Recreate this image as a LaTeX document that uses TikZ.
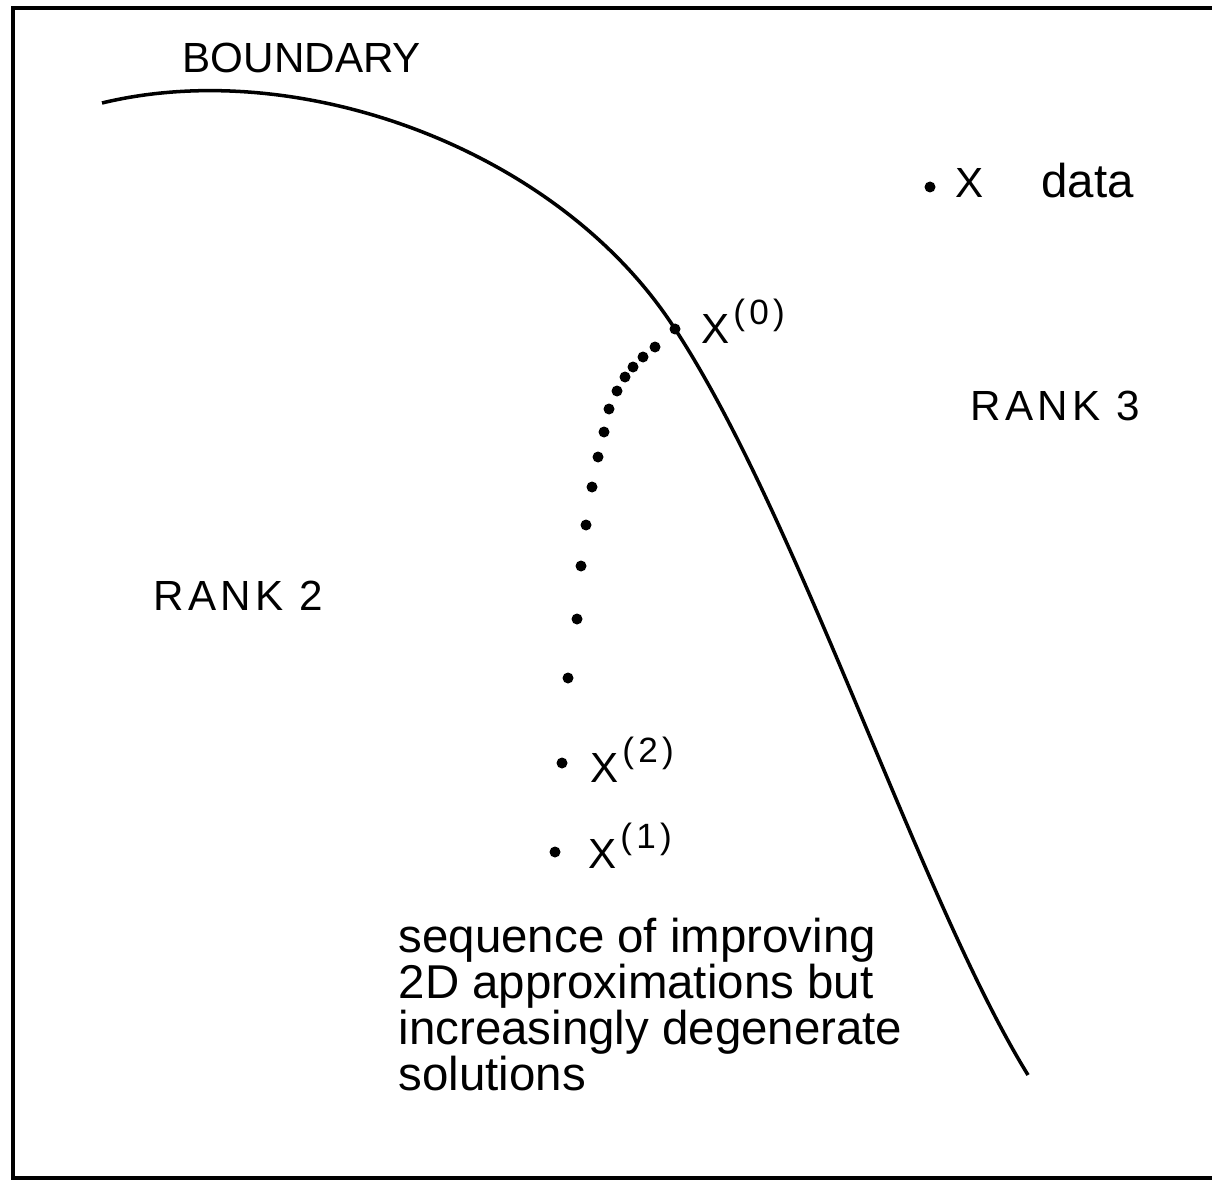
\documentclass[tikz,border=0pt]{standalone}
\usepackage{fontspec}
\setmainfont{Liberation Sans}
\newfontfamily\lblfont[LetterSpace=10]{Liberation Sans}
\newfontfamily\supfont[LetterSpace=12]{Liberation Sans}
\usetikzlibrary{positioning}
\tikzset{
  pt/.style={circle,fill,inner sep=0pt,minimum size=1.1mm},
  bdry/.style={line width=1pt},
  frm/.style={line width=0.9pt},
  region/.style={font=\lblfont\fontsize{12}{14}\selectfont,inner sep=0pt,anchor=base west},
  iterlbl/.style={font=\fontsize{12}{14}\selectfont,inner sep=0pt,anchor=base west},
  note/.style={font=\fontsize{13.5}{13.1}\selectfont,inner sep=0pt},
  every node/.style={text=black}
}
\newcommand{\itr}[1]{X\hspace{1pt}\raisebox{5.5pt}{\supfont\fontsize{10}{12}\selectfont(#1)}}

\begin{document}
\begin{tikzpicture}[x=0.1mm,y=-0.1mm]
\useasboundingbox (0,0) rectangle (1212,1180);
% frame, open on the right
\draw[frm] (1212,8) -- (13,8) -- (13,1178) -- (1212,1178);
% the boundary curve
\draw[bdry] (102,103) .. controls (300,55) and (560,150) .. (675,329)
  .. controls (800,520) and (920,900) .. (1028,1075);
\node[inner sep=0pt,anchor=base west,font=\fontsize{12}{14}\selectfont] (bnd) at (182,73) {BOUNDARY};
\node[region] (r2) at (153,610) {RANK 2};
\node[region] (r3) at (970,420) {RANK 3};
% data point
\node[pt] (xd) at (930,187) {};
\node[iterlbl] (dX) at (955,198) {X};
\node[note,right=5.6mm of dX.base east,anchor=base west] (dlbl) {data};
% iterates
\node[pt] (x0) at (675,329) {};
\node[iterlbl] (l0) at (701,344) {\itr{0}};
\node[pt] (x2) at (562,763) {};
\node[iterlbl] (l2) at (590,782) {\itr{2}};
\node[pt] (x1) at (555,852) {};
\node[iterlbl] (l1) at (588,868) {\itr{1}};
\foreach \x/\y [count=\i] in {655/347,643/357,633/367,625/377,617/391,609/409,604/432,
  598/457,592/487,586/525,581/566,577/619,568/678}
  \node[pt] (s\i) at (\x,\y) {};
\node[note,align=left,anchor=north west] (seq) at (398,917)
  {sequence of improving\\2D approximations but\\increasingly degenerate\\solutions};
\end{tikzpicture}
\end{document}
